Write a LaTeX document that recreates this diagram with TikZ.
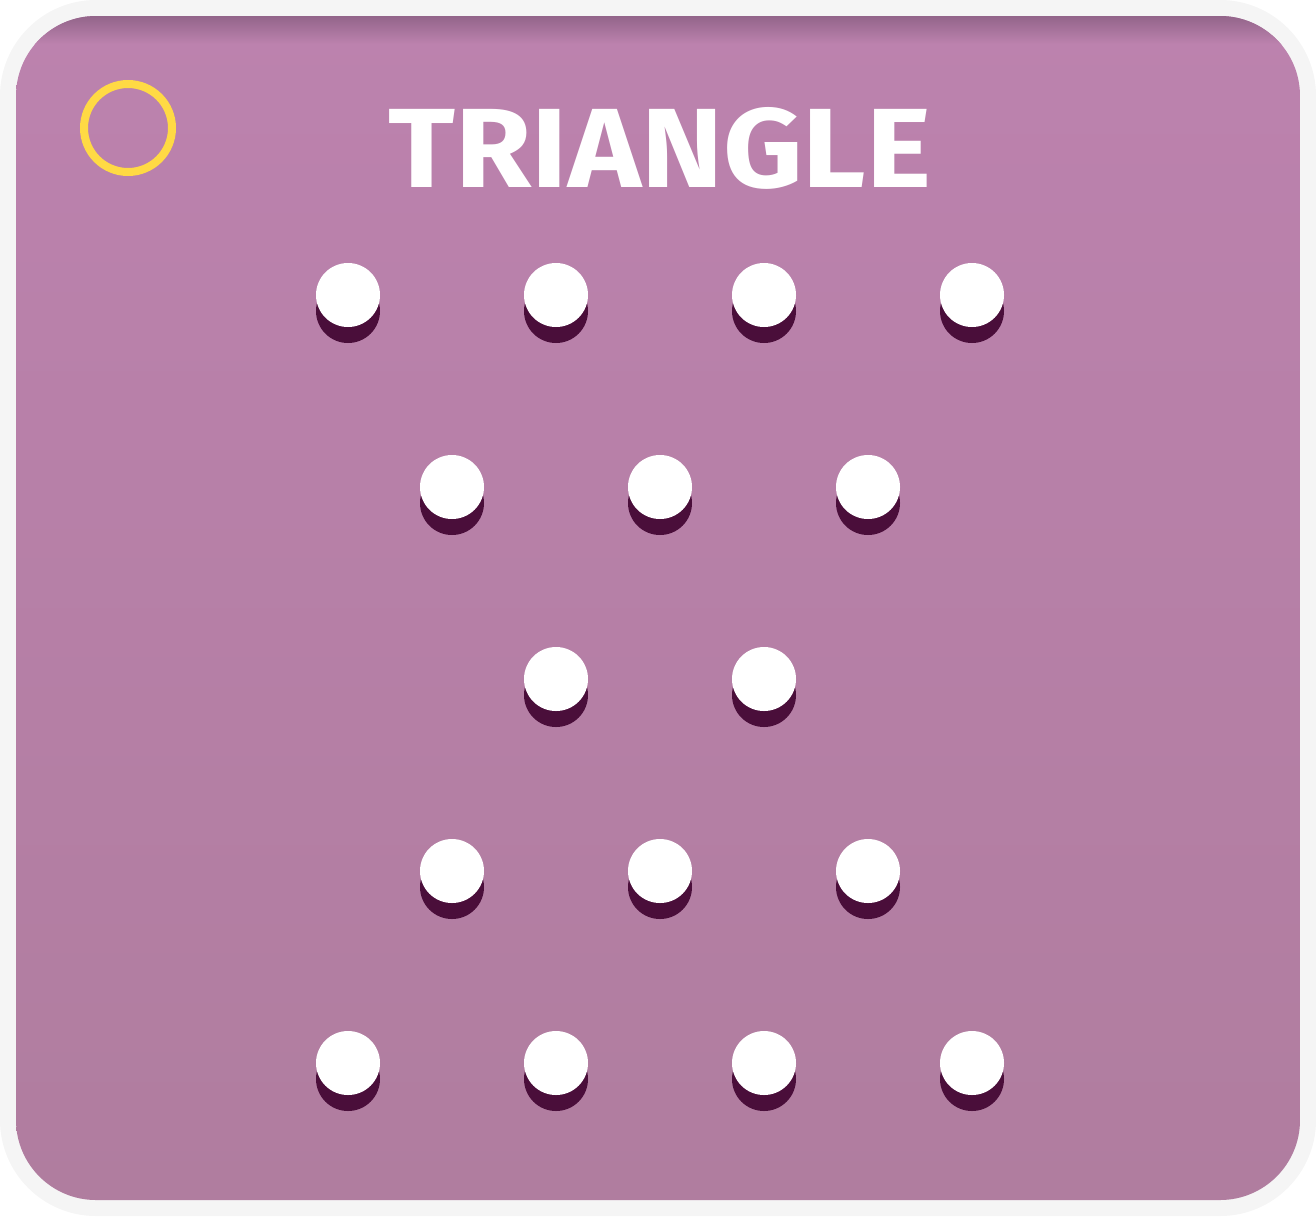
\documentclass[tikz,border=0pt]{standalone}
\usepackage{fontspec}
\setmainfont{Fira Sans}
\usetikzlibrary{positioning}
\usepackage{xcolor}
\definecolor{framegray}{HTML}{F5F5F5}
\definecolor{boardtop}{HTML}{BC82AE}
\definecolor{boardbottom}{HTML}{B07D9F}
\definecolor{boardedge}{HTML}{93658A}
\definecolor{pegdark}{HTML}{4A0E3A}
\definecolor{ringyellow}{HTML}{FFDA44}
\tikzset{
  peg/.style = {circle, fill=white, minimum size=64pt, inner sep=0pt},
  pegshadow/.style = {circle, fill=pegdark, minimum size=64pt, inner sep=0pt},
  ring/.style = {circle, draw=ringyellow, line width=8pt, minimum size=88pt, inner sep=0pt},
  title/.style = {text=white, inner sep=0pt}
}

\begin{document}
\begin{tikzpicture}[x=1pt, y=-1pt]

\useasboundingbox (0,0) rectangle (1316,1216);
\fill[framegray, rounded corners=96pt] (0,0) rectangle (1316,1216);
\begin{scope}
  \clip[rounded corners=80pt] (16,16) rectangle (1300,1200);
  \shade[top color=boardtop, bottom color=boardbottom] (16,16) rectangle (1300,1200);
  % soft inner shadow along the top edge
  \shade[top color=boardedge, bottom color=boardtop] (16,16) rectangle (1300,44);
\end{scope}

\node[ring] (marker) at (128,128) {};
\node[title] (heading) at (660,148) {\resizebox{542pt}{80pt}{\bfseries TRIANGLE}};

% pegs, row by row
\foreach \x/\y [count=\i] in {348/295, 556/295, 764/295, 972/295,
                              452/487, 660/487, 868/487,
                              556/679, 764/679,
                              452/871, 660/871, 868/871,
                              348/1063, 556/1063, 764/1063, 972/1063} {
  \node[pegshadow] (shadow\i) at (\x,\y+16) {};
  \node[peg] (peg\i) at (\x,\y) {};
}

\end{tikzpicture}
\end{document}
